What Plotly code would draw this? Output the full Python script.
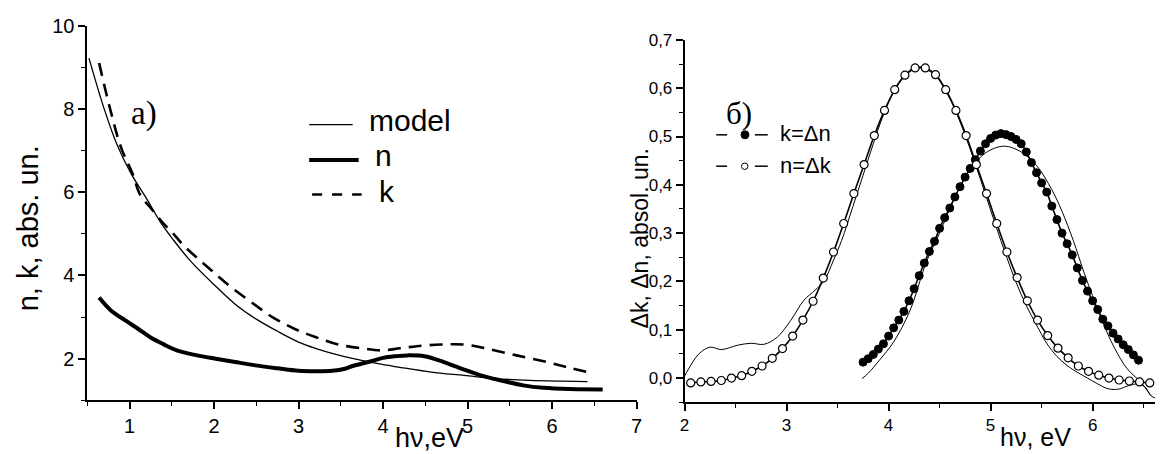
import plotly.graph_objects as go

# page body has an 8px margin: the figure fills the rest of the 1163x454 window
OFF = 8
FW, FH = 1163 - OFF, 454 - OFF
# measured vertical placement of the figure in the photographed page
VSCALE, VOFF = 0.976, 18.4

# ---------------- Panel a) data ----------------
model_x = [0.52, 0.70, 0.85, 1.02, 1.20, 1.36, 1.52, 1.72, 2.03, 2.25, 2.50, 2.75, 3.00, 3.20,
           3.43, 3.65, 3.94, 4.18, 4.57, 4.96, 5.35, 5.74, 6.13, 6.42]
model_y = [9.22, 8.00, 7.15, 6.44, 5.85, 5.30, 4.85, 4.35, 3.72, 3.31, 2.95, 2.66, 2.40, 2.25,
           2.11, 2.00, 1.88, 1.80, 1.68, 1.60, 1.52, 1.48, 1.46, 1.45]

n_x = [0.64, 0.78, 0.95, 1.10, 1.25, 1.40, 1.56, 1.80, 2.02, 2.25, 2.49, 2.75, 3.00, 3.20, 3.40,
       3.55, 3.65, 3.86, 4.00, 4.15, 4.29, 4.49, 4.72, 4.96, 5.19, 5.39, 5.66, 5.90, 6.21, 6.60]
n_y = [3.47, 3.16, 2.92, 2.72, 2.51, 2.35, 2.20, 2.08, 2.00, 1.92, 1.84, 1.77, 1.71, 1.70, 1.71,
       1.76, 1.83, 1.94, 2.02, 2.06, 2.08, 2.06, 1.92, 1.74, 1.58, 1.48, 1.36, 1.30, 1.27, 1.26]

k_x = [0.64, 0.77, 0.90, 1.03, 1.13, 1.26, 1.40, 1.52, 1.64, 1.80, 1.97, 2.20, 2.44, 2.69, 2.95,
       3.20, 3.47, 3.75, 3.98, 4.20, 4.40, 4.69, 4.96, 5.23, 5.58, 5.94, 6.21, 6.46]
k_y = [9.10, 8.00, 7.07, 6.47, 5.92, 5.60, 5.25, 5.00, 4.72, 4.42, 4.12, 3.72, 3.36, 3.00, 2.72,
       2.52, 2.34, 2.25, 2.20, 2.25, 2.30, 2.34, 2.34, 2.24, 2.08, 1.92, 1.78, 1.66]

# ---------------- Panel б) data ----------------
nk_x = [2.06, 2.16, 2.26, 2.36, 2.46, 2.56, 2.66, 2.76, 2.86, 2.96, 3.06, 3.16, 3.26, 3.36, 3.46,
        3.56, 3.66, 3.76, 3.86, 3.96, 4.06, 4.16, 4.26, 4.36, 4.46, 4.56, 4.66, 4.76, 4.86, 4.96,
        5.06, 5.16, 5.26, 5.36, 5.46, 5.56, 5.66, 5.76, 5.86, 5.96, 6.06, 6.16, 6.26, 6.36, 6.46, 6.56]
nk_y = [-0.010, -0.008, -0.007, -0.005, 0.000, 0.005, 0.014, 0.025, 0.041, 0.061, 0.087, 0.120,
        0.159, 0.207, 0.261, 0.320, 0.382, 0.442, 0.502, 0.554, 0.597, 0.627, 0.642, 0.642, 0.628,
        0.597, 0.554, 0.502, 0.442, 0.382, 0.320, 0.261, 0.208, 0.160, 0.120, 0.088, 0.062, 0.042,
        0.025, 0.014, 0.006, 0.000, -0.004, -0.006, -0.008, -0.010]

kn_x = [3.75, 3.80, 3.85, 3.90, 3.95, 4.00, 4.05, 4.10, 4.15, 4.20, 4.25, 4.30, 4.35, 4.40, 4.45,
        4.50, 4.55, 4.60, 4.65, 4.70, 4.75, 4.80, 4.85, 4.90, 4.95, 5.00, 5.05, 5.10, 5.15, 5.20,
        5.25, 5.30, 5.35, 5.40, 5.45, 5.50, 5.55, 5.60, 5.65, 5.70, 5.75, 5.80, 5.85, 5.90, 5.95,
        6.00, 6.05, 6.10, 6.15, 6.20, 6.25, 6.30, 6.35, 6.40, 6.45]
kn_y = [0.033, 0.040, 0.049, 0.060, 0.071, 0.087, 0.104, 0.120, 0.138, 0.160, 0.185, 0.212, 0.238,
        0.262, 0.283, 0.310, 0.332, 0.352, 0.375, 0.396, 0.416, 0.434, 0.452, 0.470, 0.485, 0.496,
        0.503, 0.506, 0.504, 0.500, 0.494, 0.485, 0.468, 0.446, 0.425, 0.404, 0.385, 0.356, 0.328,
        0.300, 0.278, 0.255, 0.228, 0.202, 0.180, 0.160, 0.142, 0.122, 0.108, 0.093, 0.081, 0.069,
        0.059, 0.048, 0.037]

mod_nk_x = [2.00, 2.04, 2.14, 2.25, 2.36, 2.52, 2.65, 2.78, 2.91, 3.04, 3.17, 3.28, 3.37, 3.46, 3.54,
            3.65, 3.75, 3.85, 3.95, 4.05, 4.15, 4.25, 4.33, 4.45, 4.55, 4.65, 4.75, 4.85, 4.95, 5.05,
            5.15, 5.25, 5.35, 5.45, 5.55, 5.65, 5.75, 5.85, 5.95, 6.05, 6.15, 6.25, 6.35, 6.45, 6.52,
            6.57, 6.62]
mod_nk_y = [0.004, 0.019, 0.050, 0.064, 0.059, 0.068, 0.072, 0.070, 0.085, 0.119, 0.161, 0.182, 0.202,
            0.244, 0.285, 0.355, 0.420, 0.485, 0.545, 0.592, 0.623, 0.639, 0.641, 0.628, 0.598, 0.556,
            0.503, 0.443, 0.380, 0.316, 0.255, 0.198, 0.150, 0.110, 0.072, 0.045, 0.026, 0.012, 0.000,
            -0.012, -0.022, -0.023, -0.016, -0.012, -0.020, -0.036, -0.042]

mod_kn_x = [3.74, 3.80, 3.91, 4.05, 4.21, 4.37, 4.50, 4.65, 4.80, 4.95, 5.13, 5.30, 5.45, 5.60, 5.70,
            5.81, 5.92, 6.08, 6.21, 6.34, 6.47, 6.57]
mod_kn_y = [-0.001, 0.010, 0.037, 0.075, 0.140, 0.240, 0.300, 0.375, 0.432, 0.466, 0.480, 0.468,
            0.440, 0.390, 0.345, 0.285, 0.216, 0.126, 0.064, 0.019, -0.008, -0.036]

FONT = "Liberation Sans, Arial, sans-serif"
SERIF = "Liberation Serif, Times New Roman, serif"


def px(x):
    return (x - OFF) / FW


def py(y):
    fy = (y - VOFF) / VSCALE
    return 1 - fy / FH


fig = go.Figure()

# panel a)
fig.add_trace(go.Scatter(x=model_x, y=model_y, mode="lines", line=dict(color="black", width=1.3, shape="spline"),
                         xaxis="x", yaxis="y", showlegend=False))
fig.add_trace(go.Scatter(x=n_x, y=n_y, mode="lines", line=dict(color="black", width=4, shape="spline"),
                         xaxis="x", yaxis="y", showlegend=False))
fig.add_trace(go.Scatter(x=k_x, y=k_y, mode="lines",
                         line=dict(color="black", width=2.6, shape="spline", dash="13px,8px"),
                         xaxis="x", yaxis="y", showlegend=False))

# panel б)
fig.add_trace(go.Scatter(x=mod_nk_x, y=mod_nk_y, mode="lines", line=dict(color="black", width=1.0, shape="spline"),
                         xaxis="x2", yaxis="y2", showlegend=False))
fig.add_trace(go.Scatter(x=mod_kn_x, y=mod_kn_y, mode="lines", line=dict(color="black", width=1.0, shape="spline"),
                         xaxis="x2", yaxis="y2", showlegend=False))
fig.add_trace(go.Scatter(x=kn_x, y=kn_y, mode="lines+markers",
                         line=dict(color="black", width=1.6, shape="spline"),
                         marker=dict(symbol="circle", size=8, color="black", line=dict(color="black", width=1)),
                         xaxis="x2", yaxis="y2", showlegend=False))
fig.add_trace(go.Scatter(x=nk_x, y=nk_y, mode="lines+markers",
                         line=dict(color="black", width=1.6, shape="spline"),
                         marker=dict(symbol="circle", size=8, color="white", line=dict(color="black", width=1.2)),
                         xaxis="x2", yaxis="y2", showlegend=False))

axis_common = dict(showline=True, linecolor="black", linewidth=1.6, ticks="outside", ticklen=7,
                   tickwidth=1.5, tickcolor="black", showgrid=False, zeroline=False)

fig.update_layout(
    width=FW, height=FH, autosize=False,
    margin=dict(l=0, r=0, t=0, b=0),
    paper_bgcolor="white", plot_bgcolor="white",
    separators=", ",
    font=dict(family=FONT, color="black"),
    xaxis=dict(domain=[px(83), px(637.5)], range=[0.5, 7], tickvals=[1, 2, 3, 4, 5, 6, 7],
               tickfont=dict(size=20, family=FONT), anchor="y",
               minor=dict(dtick=0.5, ticklen=4, tickwidth=1.3, tickcolor="black", ticks="outside"),
               **axis_common),
    yaxis=dict(domain=[py(400), py(25)], range=[1, 10], tickvals=[2, 4, 6, 8, 10],
               tickfont=dict(size=20, family=FONT), anchor="x",
               minor=dict(dtick=1, ticklen=4, tickwidth=1.3, tickcolor="black", ticks="outside"),
               **axis_common),
    xaxis2=dict(domain=[px(686), 1.0], range=[2, 6.631], tickvals=[2, 3, 4, 5, 6],
                tickfont=dict(size=17, family=FONT), anchor="y2",
                minor=dict(dtick=0.5, ticklen=4, tickwidth=1.3, tickcolor="black", ticks="outside"),
                **axis_common),
    yaxis2=dict(domain=[py(401.9), py(39.3)], range=[-0.05, 0.7],
                tickvals=[0.0, 0.1, 0.2, 0.3, 0.4, 0.5, 0.6, 0.7], tickformat=".1f",
                tickfont=dict(size=17, family=FONT), anchor="x2",
                minor=dict(dtick=0.05, ticklen=4, tickwidth=1.3, tickcolor="black", ticks="outside"),
                **axis_common),
)

ann = []
# axis titles
ann.append(dict(text="n, k, abs. un.", x=px(24), y=py(228), textangle=-90, font=dict(size=29, family=FONT)))
ann.append(dict(text="hν,eV", x=px(428), y=0, yanchor="bottom", borderpad=0, font=dict(size=27, family=FONT)))
ann.append(dict(text="Δk, Δn, absol. un.", x=px(641), y=py(238), textangle=-90, font=dict(size=23, family=FONT)))
ann.append(dict(text="hν, eV", x=px(1040), y=py(437), font=dict(size=25, family=FONT)))
# panel labels
ann.append(dict(text="a)", x=px(140), y=py(113), font=dict(size=33, family=SERIF)))
ann.append(dict(text="б)", x=px(741), y=py(113), font=dict(size=31, family=SERIF)))
# legend a)
ann.append(dict(text="model", x=px(365), y=py(120), xanchor="left", font=dict(size=30, family=FONT)))
ann.append(dict(text="n", x=px(371), y=py(155), xanchor="left", font=dict(size=30, family=FONT)))
ann.append(dict(text="k", x=px(375), y=py(191), xanchor="left", font=dict(size=30, family=FONT)))
# legend б)
ann.append(dict(text="k=Δn", x=px(780), y=py(133), xanchor="left", font=dict(size=22, family=FONT)))
ann.append(dict(text="n=Δk", x=px(780), y=py(165), xanchor="left", font=dict(size=22, family=FONT)))

for a in ann:
    a.update(xref="paper", yref="paper", showarrow=False, yanchor=a.get("yanchor", "middle"),
             xanchor=a.get("xanchor", "center"))
fig.update_layout(annotations=ann)

shapes = []
# legend a) lines
shapes.append(dict(type="line", x0=px(307), x1=px(351), y0=py(124), y1=py(124), line=dict(color="black", width=1.3)))
shapes.append(dict(type="line", x0=px(307), x1=px(357), y0=py(159.5), y1=py(159.5), line=dict(color="black", width=4)))
shapes.append(dict(type="line", x0=px(310), x1=px(360), y0=py(194), y1=py(194),
                   line=dict(color="black", width=2.5, dash="10px,10px")))
# legend б)
for yy in (134.3, 165.7):
    shapes.append(dict(type="line", x0=px(718), x1=px(729), y0=py(yy), y1=py(yy), line=dict(color="black", width=1.5)))
    shapes.append(dict(type="line", x0=px(757), x1=px(770), y0=py(yy), y1=py(yy), line=dict(color="black", width=1.5)))
shapes.append(dict(type="circle", x0=px(743), x1=px(751), y0=py(138.3), y1=py(130.3),
                   fillcolor="black", line=dict(color="black", width=1)))
shapes.append(dict(type="circle", x0=px(743.5), x1=px(750), y0=py(169), y1=py(162.5),
                   fillcolor="white", line=dict(color="black", width=1)))
for s in shapes:
    s.update(xref="paper", yref="paper")
fig.update_layout(shapes=shapes)

fig.write_html("out.html")
